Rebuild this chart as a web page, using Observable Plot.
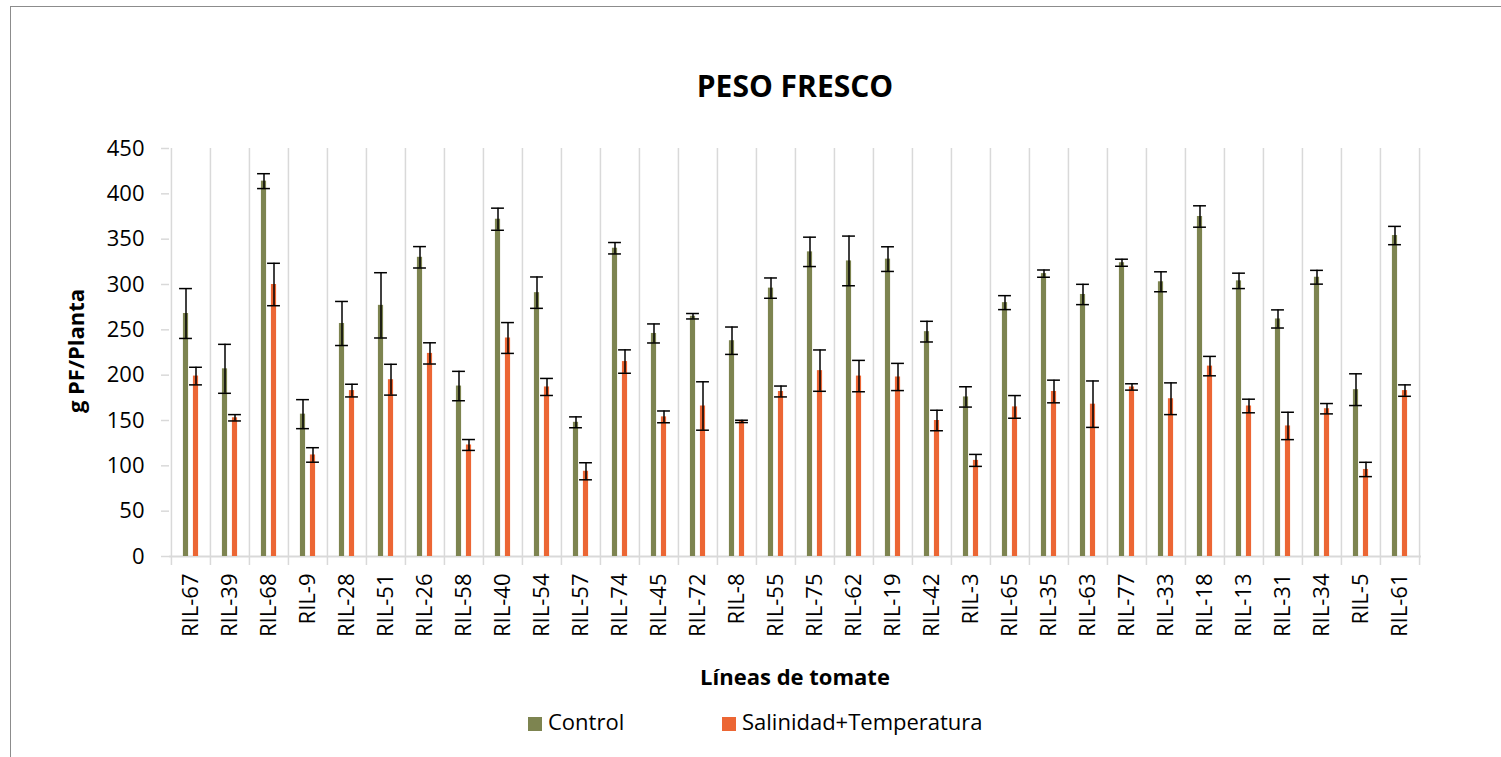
<!DOCTYPE html>
<html>
<head>
<meta charset="utf-8">
<script src="https://cdn.jsdelivr.net/npm/d3@7"></script>
<script src="https://cdn.jsdelivr.net/npm/@observablehq/plot@0.6"></script>
<style>
  html, body { margin: 0; padding: 0; background: #fff; }
  body { width: 1501px; height: 757px; position: relative; overflow: hidden; font-family: "Open Sans", sans-serif; color: #000; }
  #frame { position: absolute; left: 10px; top: 6px; width: 1500px; height: 760px; border-top: 1px solid #8c8c8c; border-left: 1px solid #8c8c8c; }
  #title { position: absolute; left: 169px; width: 1252px; top: 66px; text-align: center; font-size: 30px; font-weight: 700; line-height: 40px; }
  #ytitle { position: absolute; left: 75px; top: 351px; transform: translate(-50%, -50%) rotate(-90deg); font-size: 22px; font-weight: 700; white-space: nowrap; line-height: 28px; }
  #xtitle { position: absolute; left: 169px; width: 1252px; top: 661px; text-align: center; font-size: 22px; font-weight: 700; line-height: 30px; }
  #legend { position: absolute; left: 0; width: 1501px; top: 706px; font-size: 22px; line-height: 30px; }
  .item { position: absolute; top: 0; white-space: nowrap; }
  .sw { display: inline-block; width: 14px; height: 14px; margin-right: 6px; vertical-align: -1px; }
  #chart { position: absolute; left: 0; top: 120px; }
  #chart [aria-label="y-axis"] line, #chart [aria-label="y-axis tick"] path { stroke: #d9d9d9; stroke-width: 1.5; }
</style>
</head>
<body>
<div id="frame"></div>
<div id="title">PESO FRESCO</div>
<div id="ytitle">g PF/Planta</div>
<div id="chart"></div>
<div id="xtitle">Líneas de tomate</div>
<div id="legend"></div>
<script>
const categories = ["RIL-67","RIL-39","RIL-68","RIL-9","RIL-28","RIL-51","RIL-26","RIL-58","RIL-40","RIL-54","RIL-57","RIL-74","RIL-45","RIL-72","RIL-8","RIL-55","RIL-75","RIL-62","RIL-19","RIL-42","RIL-3","RIL-65","RIL-35","RIL-63","RIL-77","RIL-33","RIL-18","RIL-13","RIL-31","RIL-34","RIL-5","RIL-61"];
const seriesNames = ["Control", "Salinidad+Temperatura"];
const control    = [268, 207, 414, 157, 257, 277, 330, 188, 372, 291, 148, 340, 246, 265, 238, 296, 336, 326, 328, 248, 176, 280, 312, 289, 324, 303, 375, 304, 262, 308, 184, 354];
const controlErr = [27.5, 27, 8.2, 16, 24.3, 36, 11.8, 16.2, 12.2, 17.3, 6, 6.3, 10.5, 3, 15.1, 11.2, 16.2, 27.4, 13.6, 11.4, 11.2, 7.7, 4, 11.2, 3.9, 11, 11.8, 8.5, 10, 7.6, 17.5, 10.1];
const salt       = [199, 153, 300, 112, 183, 195, 224, 123, 241, 187, 94, 215, 154, 166, 149, 182, 205, 199, 198, 150, 106, 165, 182, 168, 187, 174, 210, 166, 144, 163, 96, 183];
const saltErr    = [9.7, 3.5, 23.4, 8, 7, 17, 11.7, 6, 17, 9.4, 9.4, 12.9, 6.5, 26.7, 1.3, 6, 22.8, 17.3, 15, 11.3, 6.6, 12.5, 12.5, 25.6, 3.5, 17.5, 10.7, 7.5, 15.1, 5.7, 7.9, 6.3];
const yTicks = [0, 50, 100, 150, 200, 250, 300, 350, 400, 450];
const colors = ["#7D8450", "#EC6634"];

const W = 1501, H = 540;
const mL = 169, mR = 80, mT = 28, mB = 104;
const bw = (W - mL - mR) / categories.length;
const barW = 5.3, capW = 13, off = 5;

const ctrlRows = categories.map((c, i) => ({cat: c, v: control[i], lo: control[i] - controlErr[i], hi: control[i] + controlErr[i]}));
const saltRows = categories.map((c, i) => ({cat: c, v: salt[i], lo: salt[i] - saltErr[i], hi: salt[i] + saltErr[i]}));

const barInset = (bw - barW) / 2;
const capInset = (bw - capW) / 2;

function seriesMarks(rows, color, dx) {
  return [
    Plot.barY(rows, {x: "cat", y: "v", fill: color, dx, insetLeft: barInset, insetRight: barInset}),
    Plot.ruleX(rows, {x: "cat", y1: "lo", y2: "hi", dx, stroke: "#000", strokeWidth: 1.5}),
    Plot.tickY(rows, {x: "cat", y: "hi", dx, stroke: "#000", strokeWidth: 1.5, insetLeft: capInset, insetRight: capInset}),
    Plot.tickY(rows, {x: "cat", y: "lo", dx, stroke: "#000", strokeWidth: 1.5, insetLeft: capInset, insetRight: capInset})
  ];
}

const chart = Plot.plot({
  width: W, height: H,
  marginLeft: mL, marginRight: mR, marginTop: mT, marginBottom: mB,
  style: {fontFamily: "'Open Sans', sans-serif", fontSize: "22px", color: "#000", background: "transparent"},
  x: {type: "band", domain: categories, padding: 0, tickSize: 0, tickPadding: 17, tickRotate: -90, label: null},
  y: {domain: [0, 450], ticks: yTicks, tickSize: 8, tickPadding: 17, label: null, grid: false},
  marks: [
    Plot.ruleX(categories, {x: d => d, y1: 450, y2: 0, dx: -bw / 2, stroke: "#d9d9d9", strokeWidth: 1.5, insetBottom: -9}),
    Plot.ruleX(categories.slice(-1), {x: d => d, y1: 450, y2: 0, dx: bw / 2, stroke: "#d9d9d9", strokeWidth: 1.5, insetBottom: -9}),
    Plot.ruleY([0], {stroke: "#d9d9d9", strokeWidth: 2}),
    ...seriesMarks(ctrlRows, colors[0], -off),
    ...seriesMarks(saltRows, colors[1], off)
  ]
});
document.getElementById("chart").appendChild(chart);

const legend = document.getElementById("legend");
const legendLeft = [528, 722];
seriesNames.forEach((name, i) => {
  const it = document.createElement("div");
  it.className = "item";
  it.style.left = legendLeft[i] + "px";
  const sw = document.createElement("span");
  sw.className = "sw";
  sw.style.background = colors[i];
  it.appendChild(sw);
  it.appendChild(document.createTextNode(name));
  legend.appendChild(it);
});
</script>
</body>
</html>
